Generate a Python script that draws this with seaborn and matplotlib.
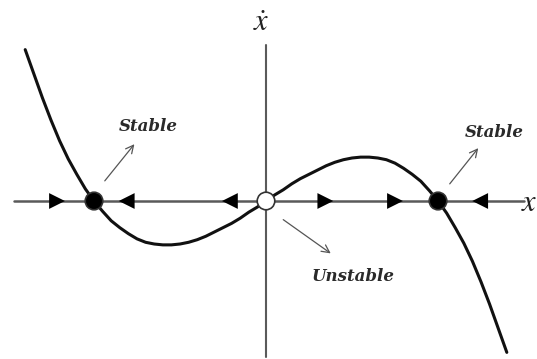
import numpy as np
import pandas as pd
import matplotlib
matplotlib.use('Agg')
import matplotlib.pyplot as plt
import seaborn as sns

# curve of x-dot against x
curve_x = [-2.8, -2.7, -2.6, -2.5, -2.4, -2.3, -2.2, -2.1, -2.0, -1.9, -1.8, -1.7, -1.6, -1.5,
           -1.4, -1.3, -1.2, -1.1, -1.0, -0.9, -0.8, -0.7, -0.6, -0.5, -0.4, -0.3, -0.2, -0.1,
           0.0, 0.1, 0.2, 0.3, 0.4, 0.5, 0.6, 0.7, 0.8, 0.9, 1.0, 1.1, 1.2, 1.3, 1.4, 1.5,
           1.6, 1.7, 1.8, 1.9, 2.0, 2.1, 2.2, 2.3, 2.4, 2.5, 2.6, 2.7, 2.8]
curve_y = [1.76, 1.48, 1.20, 0.94, 0.70, 0.49, 0.31, 0.14, 0.0, -0.12, -0.23, -0.31, -0.38, -0.44,
           -0.48, -0.50, -0.51, -0.51, -0.50, -0.48, -0.45, -0.41, -0.36, -0.31, -0.26, -0.20, -0.13, -0.07,
           0.0, 0.07, 0.13, 0.20, 0.26, 0.31, 0.36, 0.41, 0.45, 0.48, 0.50, 0.51, 0.51, 0.50, 0.48, 0.44,
           0.38, 0.31, 0.23, 0.12, 0.0, -0.14, -0.31, -0.49, -0.70, -0.94, -1.20, -1.48, -1.76]

# flow arrows on the phase line
flow_x = [-2.43, -1.62, -0.42, 0.69, 1.50, 2.49]
flow_dir = ['right', 'left', 'left', 'right', 'right', 'left']

# fixed points
fixed_x = [-2.0, 0.0, 2.0]
fixed_kind = ['stable', 'unstable', 'stable']

curve = pd.DataFrame({'x': curve_x, 'xdot': curve_y})
flows = pd.DataFrame({'x': flow_x, 'y': 0.0, 'dir': flow_dir})
fixed = pd.DataFrame({'x': fixed_x, 'y': 0.0, 'kind': fixed_kind})

sns.set_style('white')

fig = plt.figure(figsize=(5.37, 3.59), dpi=100)
ax = fig.add_axes([0, 0, 1, 1])
ax.set_xlim(-3.093, 3.151)
ax.set_ylim(-1.837, 2.337)
ax.axis('off')

axis_col = '#5a5a5a'
ax.plot([-2.93, 3.0], [0, 0], color=axis_col, lw=1.8, zorder=1)
ax.plot([0, 0], [-1.814, 1.814], color=axis_col, lw=1.5, zorder=1)

sns.lineplot(data=curve, x='x', y='xdot', color='#111111', lw=2.2, ax=ax,
             sort=False, zorder=2)

sns.scatterplot(data=flows, x='x', y='y', hue='dir', style='dir',
                markers={'right': '>', 'left': '<'},
                palette={'right': 'black', 'left': 'black'},
                s=130, linewidth=0, ax=ax, legend=False, zorder=3)

sns.scatterplot(data=fixed, x='x', y='y', hue='kind',
                palette={'stable': 'black', 'unstable': 'white'},
                s=160, edgecolor='#333333', linewidth=1.2, ax=ax,
                legend=False, zorder=4)

lab = dict(family='DejaVu Serif', style='italic', weight='bold',
           fontsize=12, color='#2a2a2a', ha='center', va='center')
ax.text(-1.37, 0.87, 'Stable', **lab)
ax.text(2.66, 0.80, 'Stable', **lab)
ax.text(1.01, -0.88, 'Unstable', **lab)

arr = dict(arrowstyle='->', color='#555555', lw=0.9, mutation_scale=14)
ax.annotate('', xy=(-1.51, 0.686), xytext=(-1.895, 0.209), arrowprops=arr)
ax.annotate('', xy=(2.488, 0.64), xytext=(2.116, 0.174), arrowprops=arr)
ax.annotate('', xy=(0.779, -0.628), xytext=(0.174, -0.198), arrowprops=arr)

plt.rcParams['mathtext.fontset'] = 'stix'
ax.text(-0.05, 2.08, r'$\dot{x}$', fontsize=22, ha='center', va='center', color='#222222')
ax.text(3.06, -0.02, r'$x$', fontsize=22, ha='center', va='center', color='#222222')

fig.savefig('out.png', dpi=100)
